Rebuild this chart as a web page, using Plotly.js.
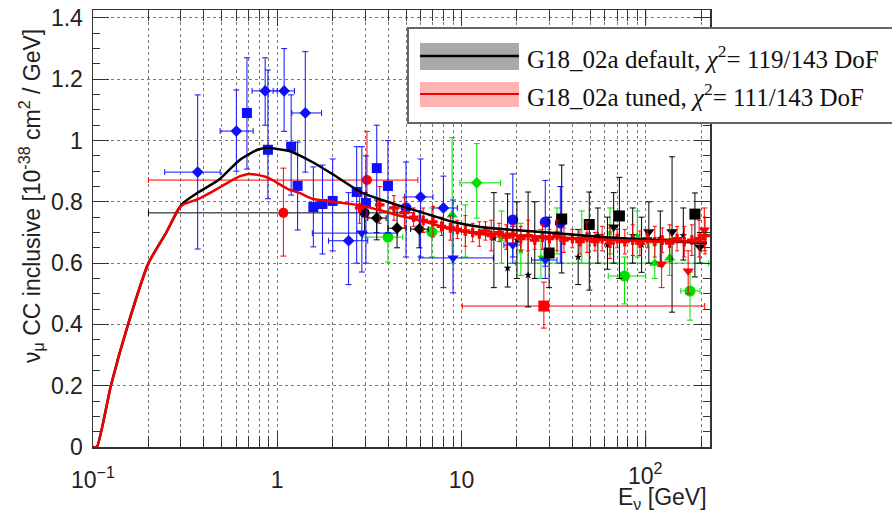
<!DOCTYPE html>
<html><head><meta charset="utf-8">
<script src="https://cdn.plot.ly/plotly-3.0.1.min.js"></script>
<style>body{margin:0;background:#fff}</style>
</head><body><div id="chart" style="width:892px;height:512px"></div>
<script>
// ---- model curves ----
const curveE     = [0.1,0.105,0.125,0.155,0.2,0.25,0.29,0.31,0.375,0.48,0.57,0.63,0.70,0.78,0.87,0.95,1.065,1.16,1.32,1.55,2.0,2.9,4.47,6.77,9.04,12.7,19.2,29.5,57.5,108,215];
const curveDefault=[0,0,0.2,0.4,0.6,0.70,0.775,0.797,0.832,0.871,0.914,0.938,0.955,0.97,0.976,0.975,0.97,0.966,0.952,0.93,0.89,0.829,0.79,0.757,0.734,0.718,0.708,0.70,0.685,0.676,0.665];
const curveTuned  =[0,0,0.2,0.4,0.6,0.70,0.775,0.792,0.81,0.845,0.871,0.884,0.891,0.888,0.881,0.87,0.852,0.84,0.829,0.81,0.80,0.787,0.757,0.73,0.708,0.698,0.69,0.686,0.676,0.672,0.67];

// ---- data: blue ----
const blueDiaE  =[0.37,0.60,0.86,1.09,1.42,2.44,6.0,7.98];
const blueDiaY  =[0.897,1.031,1.162,1.162,1.09,0.673,0.816,0.78];
const blueDiaElo=[0.245,0.49,0.73,0.95,1.2,1.9,4.9,7.0];
const blueDiaEhi=[0.49,0.74,1.0,1.24,1.74,3.1,7.0,9.5];
const blueDiaYlo=[0.646,0.90,1.05,1.03,0.897,0.53,0.62,0.52];
const blueDiaYhi=[1.149,1.165,1.27,1.30,1.29,0.83,0.94,0.884];

const blueSqE  =[0.685,0.89,1.19,1.29,1.57,1.76,2.0,2.70,3.03,3.47,3.99];
const blueSqY  =[1.09,0.97,0.98,0.852,0.783,0.793,0.803,0.832,0.796,0.91,0.852];
const blueSqYlo=[0.907,0.81,0.822,0.708,0.653,0.63,0.64,0.60,0.60,0.70,0.70];
const blueSqYhi=[1.27,1.23,1.149,0.995,0.914,0.92,0.94,0.98,0.95,1.05,1.0];

const blueCirE  =[5.0,19,28.5,34.4];
const blueCirY  =[0.78,0.741,0.734,0.731];
const blueCirYlo=[0.62,0.62,0.59,0.60];
const blueCirYhi=[0.93,0.891,0.87,0.85];

const blueTriE  =[2.88,9.0,28.5,19];
const blueTriY  =[0.698,0.617,0.61,0.659];
const blueTriElo=[1.55,5.9,24,17];
const blueTriEhi=[4.5,14.9,33,21];
const blueTriYlo=[0.571,0.503,0.55,0.60];
const blueTriYhi=[0.98,0.806,0.68,0.72];

// ---- data: black ----
const blackCirE=[2.98], blackCirY=[0.764], blackCirElo=[0.2], blackCirEhi=[5.5], blackCirYlo=[0.70], blackCirYhi=[0.83];

const blackPlusE  =[3.47,4.47,5.9];
const blackPlusY  =[0.747,0.714,0.711];
const blackPlusElo=[3.1,4.0,5.3];
const blackPlusEhi=[3.9,5.0,6.6];
const blackPlusYlo=[0.676,0.65,0.65];
const blackPlusYhi=[0.806,0.78,0.77];

const blackSqE  =[29.9,35,49.4,72,185];
const blackSqY  =[0.633,0.744,0.726,0.754,0.76];
const blackSqYlo=[0.52,0.568,0.512,0.55,0.555];
const blackSqYhi=[0.75,0.92,0.832,0.88,0.829];

const blackTriE  =[67,104,139,197];
const blackTriY  =[0.718,0.702,0.702,0.653];
const blackTriYlo=[0.60,0.60,0.44,0.60];
const blackTriYhi=[0.83,0.80,0.947,0.70];

const blackStarE  =[15,17.8,20,23,25,43,55,62,85,95,120,160];
const blackStarY  =[0.682,0.584,0.676,0.561,0.679,0.62,0.69,0.66,0.69,0.66,0.68,0.69];
const blackStarYlo=[0.52,0.522,0.55,0.457,0.55,0.53,0.60,0.58,0.60,0.57,0.59,0.61];
const blackStarYhi=[0.83,0.826,0.80,0.832,0.80,0.71,0.78,0.75,0.78,0.75,0.77,0.78];

// ---- data: green ----
const greenPlusE=[12.1], greenPlusY=[0.862], greenPlusElo=[9.8], greenPlusEhi=[16.3], greenPlusYlo=[0.747], greenPlusYhi=[0.99];

const greenCirE  =[3.99,6.9,76.7,174];
const greenCirY  =[0.685,0.702,0.558,0.509];
const greenCirElo=[2.9,6.0,62.6,155];
const greenCirEhi=[4.8,7.8,100,197];
const greenCirYlo=[0.603,0.62,0.467,0.414];
const greenCirYhi=[0.77,0.78,0.62,0.571];

const greenTriE  =[8.9,112,135];
const greenTriY  =[0.757,0.60,0.617];
const greenTriElo=[8.9,19.6,135];
const greenTriEhi=[8.9,220,135];
const greenTriYlo=[0.60,0.55,0.56];
const greenTriYhi=[1.01,0.66,0.68];

const greenStarE  =[10.5,16.5,21,27,33,45,64,90];
const greenStarY  =[0.70,0.68,0.64,0.62,0.70,0.68,0.70,0.69];
const greenStarYlo=[0.62,0.60,0.56,0.55,0.63,0.60,0.63,0.62];
const greenStarYhi=[0.79,0.77,0.73,0.71,0.78,0.77,0.78,0.77];

// ---- data: red ----
const redCirE=[1.08,3.07], redCirY=[0.764,0.871], redCirElo=[1.08,0.2], redCirEhi=[1.08,5.8], redCirYlo=[0.623,0.75], redCirYhi=[0.91,1.03];
const redSqE=[28], redSqY=[0.46], redSqElo=[10.1], redSqEhi=[209], redSqYlo=[0.388], redSqYhi=[0.538];
const redTriE=[122,170,208], redTriY=[0.597,0.574,0.708], redTriYlo=[0.52,0.50,0.64], redTriYhi=[0.68,0.64,0.78];

const redCrossE=[2.8,3.6,4.3,4.9,5.5,6.2,7.0,7.8,8.7,9.5,10.5,11.5,12.5,13.5,14.5,16,17.5,19,21,23,25,27.5,30,33,36,40,44,48,53,58,64,70,77,85,93,102,112,123,135,148,162,178,195,210];
const redCrossY=[0.78,0.79,0.78,0.765,0.75,0.74,0.735,0.72,0.715,0.71,0.705,0.70,0.695,0.705,0.69,0.70,0.685,0.695,0.68,0.69,0.675,0.685,0.68,0.69,0.675,0.68,0.67,0.685,0.67,0.68,0.665,0.68,0.67,0.675,0.665,0.68,0.67,0.675,0.665,0.68,0.67,0.675,0.68,0.69];
const redCrossErr=[0.05,0.06,0.04,0.05,0.03,0.04,0.05,0.03,0.04,0.03,0.05,0.03,0.04,0.03,0.05,0.03,0.04,0.03,0.04,0.05,0.03,0.04,0.03,0.05,0.04,0.03,0.04,0.05,0.03,0.04,0.05,0.03,0.04,0.05,0.04,0.03,0.05,0.04,0.06,0.04,0.05,0.05,0.06,0.06];

// ---- legend text ----
const legendLabels=['G18_02a default, <i>χ</i><sup>2</sup>= 119/143 DoF','G18_02a tuned, <i>χ</i><sup>2</sup>= 111/143 DoF'];

const BLUE='#1010ff', BLACK='#000000', GREEN='#00e000', RED='#ff0000';

function pts(name,E,Y,Elo,Ehi,Ylo,Yhi,color,symbol,size){
  const t={type:'scatter',mode:'markers',name:name,x:E,y:Y,showlegend:false,
    marker:{color:color,symbol:symbol,size:size,line:{width:0}},
    error_y:{type:'data',symmetric:false,array:Y.map((v,i)=>Yhi[i]-v),arrayminus:Y.map((v,i)=>v-Ylo[i]),color:color,thickness:1,width:3}};
  if(Elo){t.error_x={type:'data',symmetric:false,array:E.map((v,i)=>Ehi[i]-v),arrayminus:E.map((v,i)=>v-Elo[i]),color:color,thickness:1,width:3};}
  return t;
}

const traces=[
  pts('black circle',blackCirE,blackCirY,blackCirElo,blackCirEhi,blackCirYlo,blackCirYhi,BLACK,'circle',10),
  pts('red circle',redCirE,redCirY,redCirElo,redCirEhi,redCirYlo,redCirYhi,RED,'circle',10),
  pts('red square',redSqE,redSqY,redSqElo,redSqEhi,redSqYlo,redSqYhi,RED,'square',11),
  pts('green plus',greenPlusE,greenPlusY,greenPlusElo,greenPlusEhi,greenPlusYlo,greenPlusYhi,GREEN,'diamond',9),
  pts('green circle',greenCirE,greenCirY,greenCirElo,greenCirEhi,greenCirYlo,greenCirYhi,GREEN,'circle',11),
  pts('green tri',greenTriE,greenTriY,greenTriElo,greenTriEhi,greenTriYlo,greenTriYhi,GREEN,'triangle-up',10),
  pts('green star',greenStarE,greenStarY,null,null,greenStarYlo,greenStarYhi,GREEN,'star',6),
  pts('blue diamond',blueDiaE,blueDiaY,blueDiaElo,blueDiaEhi,blueDiaYlo,blueDiaYhi,BLUE,'diamond',9),
  pts('blue square',blueSqE,blueSqY,null,null,blueSqYlo,blueSqYhi,BLUE,'square',10),
  pts('blue circle',blueCirE,blueCirY,null,null,blueCirYlo,blueCirYhi,BLUE,'circle',11),
  pts('blue tri',blueTriE,blueTriY,blueTriElo,blueTriEhi,blueTriYlo,blueTriYhi,BLUE,'triangle-down',10),
  pts('black plus',blackPlusE,blackPlusY,blackPlusElo,blackPlusEhi,blackPlusYlo,blackPlusYhi,BLACK,'diamond',9),
  pts('black star',blackStarE,blackStarY,null,null,blackStarYlo,blackStarYhi,BLACK,'star',6),
  pts('black square',blackSqE,blackSqY,null,null,blackSqYlo,blackSqYhi,BLACK,'square',11),
  pts('black tri',blackTriE,blackTriY,null,null,blackTriYlo,blackTriYhi,BLACK,'triangle-down',10),
  pts('red tri',redTriE,redTriY,null,null,redTriYlo,redTriYhi,RED,'triangle-down',10),
  {type:'scatter',mode:'markers',name:'red cross',x:redCrossE,y:redCrossY,showlegend:false,
    marker:{color:RED,symbol:'cross',size:8},
    error_y:{type:'data',array:redCrossErr,color:RED,thickness:1,width:2}},
  {type:'scatter',mode:'lines',name:'G18_02a default',x:curveE,y:curveDefault,showlegend:false,line:{color:'#000',width:2.5,shape:'spline',smoothing:0.5}},
  {type:'scatter',mode:'lines',name:'G18_02a tuned',x:curveE,y:curveTuned,showlegend:false,line:{color:'#f00000',width:2.5,shape:'spline',smoothing:0.5}}
];

const minorX=[0.2,0.3,0.4,0.5,0.6,0.7,0.8,0.9,2,3,4,5,6,7,8,9,20,30,40,50,60,70,80,90,200];

const L=93,R=710,T=10,B=447,W=R-L,H=B-T;
const px=x=>(x-L)/W, py=y=>(B-y)/H;

const layout={
  width:892,height:512,
  margin:{l:L,r:892-R,t:T,b:512-B,pad:0},
  paper_bgcolor:'#fff',plot_bgcolor:'#fff',
  font:{family:'Liberation Sans, Arial, sans-serif',color:'#222'},
  xaxis:{type:'log',range:[-1,2.349],
    tickmode:'array',tickvals:[0.1,1,10],ticktext:['10<sup>−1</sup>','1','10'],
    ticks:'inside',ticklen:16,tickwidth:1,tickcolor:'#333',
    showline:true,linecolor:'#333',linewidth:1.5,mirror:'ticks',
    showgrid:true,gridcolor:'#777',griddash:'dot',gridwidth:1,
    minor:{tickmode:'array',tickvals:minorX.concat([100]),ticks:'inside',ticklen:11,tickcolor:'#333',showgrid:true,gridcolor:'#777',griddash:'dot',gridwidth:1},
    tickfont:{size:23,color:'#222'},ticklabelstandoff:12,zeroline:false},
  yaxis:{range:[0,1.426],tickmode:'array',tickvals:[0,0.2,0.4,0.6,0.8,1,1.2,1.4],ticktext:['0','0.2','0.4','0.6','0.8','1','1.2','1.4'],
    ticks:'inside',ticklen:16,tickwidth:1,tickcolor:'#333',
    showline:true,linecolor:'#333',linewidth:1.5,mirror:'ticks',
    showgrid:true,gridcolor:'#777',griddash:'dot',gridwidth:1,
    minor:{dtick:0.05,ticks:'inside',ticklen:7,tickcolor:'#333',showgrid:false},
    tickfont:{size:23,color:'#222'},ticklabelstandoff:4,zeroline:false},
  shapes:[
    {type:'line',xref:'x',yref:'paper',x0:100,x1:100,y0:0,y1:16/H,line:{color:'#333',width:1},layer:'above'},
    {type:'line',xref:'x',yref:'paper',x0:100,x1:100,y0:1-16/H,y1:1,line:{color:'#333',width:1},layer:'above'},
    {type:'rect',xref:'paper',yref:'paper',x0:px(408),x1:px(893),y0:py(123),y1:py(28),line:{color:'#666',width:2},fillcolor:'#fff',layer:'above'},
    {type:'rect',xref:'paper',yref:'paper',x0:px(420),x1:px(519),y0:py(70),y1:py(43),line:{width:0},fillcolor:'#aaaaaa',layer:'above'},
    {type:'line',xref:'paper',yref:'paper',x0:px(420),x1:px(519),y0:py(56),y1:py(56),line:{color:'#000',width:2.5},layer:'above'},
    {type:'rect',xref:'paper',yref:'paper',x0:px(420),x1:px(519),y0:py(107),y1:py(82),line:{width:0},fillcolor:'#ffb3b3',layer:'above'},
    {type:'line',xref:'paper',yref:'paper',x0:px(420),x1:px(519),y0:py(94),y1:py(94),line:{color:'#f00000',width:2},layer:'above'}
  ],
  annotations:[
    {xref:'paper',yref:'paper',x:px(525),y:py(57),xanchor:'left',yanchor:'middle',showarrow:false,text:legendLabels[0],font:{family:'Liberation Serif, Times New Roman, serif',size:25,color:'#111'}},
    {xref:'paper',yref:'paper',x:px(525),y:py(95),xanchor:'left',yanchor:'middle',showarrow:false,text:legendLabels[1],font:{family:'Liberation Serif, Times New Roman, serif',size:25,color:'#111'}},
    {xref:'x',yref:'paper',x:2,y:py(474),xanchor:'center',yanchor:'middle',showarrow:false,text:'10<sup>2</sup>',font:{size:23,color:'#222'}},
    {xref:'paper',yref:'paper',x:px(662),y:py(498),xanchor:'center',yanchor:'middle',showarrow:false,text:'E<sub>ν</sub> [GeV]',font:{size:23,color:'#222'}},
    {xref:'paper',yref:'paper',x:px(31),y:py(196),xanchor:'center',yanchor:'middle',textangle:-90,showarrow:false,text:'ν<sub>μ</sub> CC inclusive [10<sup>-38</sup> cm<sup>2</sup> / GeV]',font:{size:23,color:'#222'}}
  ]
};

Plotly.newPlot('chart',traces,layout,{displayModeBar:false,staticPlot:true});
</script></body></html>
